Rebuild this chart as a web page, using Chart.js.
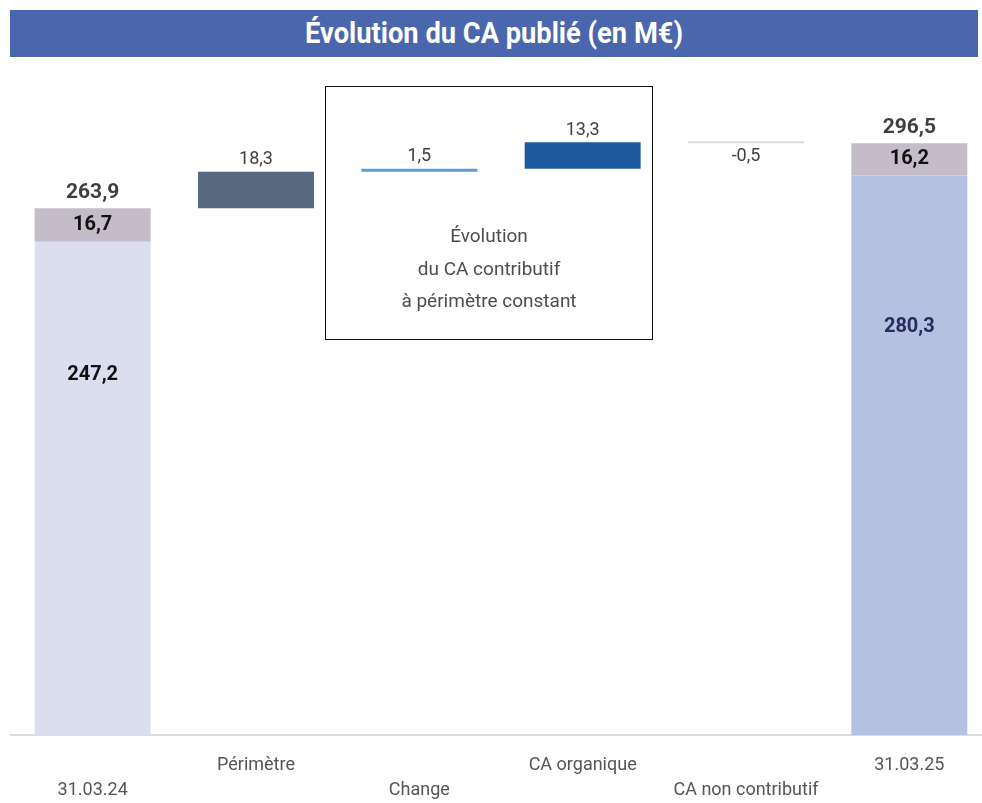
<!DOCTYPE html>
<html lang="fr">

<head>
    <meta charset="UTF-8">
    <title>Évolution du CA publié</title>
    <script src="https://cdn.jsdelivr.net/npm/chart.js"></script>
    <style>
        body { margin: 0; background: #fff; overflow: hidden; width: 982px; height: 803px; position: relative; }
        .titre {
            position: absolute; left: 10px; top: 10px; width: 968px; height: 47px;
            background: #4a66ad; color: #fff; text-align: center; line-height: 47px;
            font-family: Roboto, sans-serif; font-weight: bold; font-size: 29px;
        }
        .titre span { display: inline-block; transform: scaleX(0.94); }
        .cadre {
            position: absolute; left: 325px; top: 86px; width: 328px; height: 254px;
            border: 1.5px solid #111; box-sizing: border-box;
        }
        .cadre p {
            position: absolute; left: 0; right: 0; top: 133px; margin: 0; text-align: center;
            font-family: Roboto, sans-serif; font-size: 19px; line-height: 32.5px; color: #4d4d4d;
        }
        .zone { position: absolute; left: 0; top: 0; width: 1000px; height: 803px; }
    </style>
</head>

<body>
    <div class="zone"><canvas id="graphique" width="1000" height="803"></canvas></div>
    <div class="titre"><span>Évolution du CA publié (en M€)</span></div>
    <div class="cadre"><p>Évolution<br>du CA contributif<br>à périmètre constant</p></div>

    <script>
        // Données du graphique
        var categories = ['31.03.24', 'Périmètre', 'Change', 'CA organique', 'CA non contributif', '31.03.25'];
        var caContributif = [247.2, null, null, null, null, 280.3];   // base des colonnes de total
        var caNonContributif = [16.7, null, null, null, null, 16.2];  // partie grise des totaux
        var totaux = [263.9, null, null, null, null, 296.5];
        var variations = [null, 18.3, 1.5, 13.3, -0.5, null];

        var couleursBase = ['#dadeef', null, null, null, null, '#b5c1e0'];
        var couleursVariation = [null, '#58687f', '#5b9bd5', '#1f5b9c', '#dcdcdc', null];

        // Construction des barres flottantes (waterfall)
        var barresBase = caContributif.map(v => v === null ? null : [0, v]);
        var barresGrises = caContributif.map((v, i) => v === null ? null : [v, v + caNonContributif[i]]);
        var cumul = totaux[0];
        var barresVariation = variations.map(v => {
            if (v === null) return null;
            var debut = cumul;
            cumul = Math.round((cumul + v) * 10) / 10;
            return [debut, cumul];
        });

        function formatFr(v) {
            return v.toFixed(1).replace('.', ',');
        }

        // Plugin pour les étiquettes (valeurs + catégories en quinconce)
        var etiquettes = {
            id: 'etiquettes',
            afterDatasetsDraw(chart) {
                var ctx = chart.ctx;
                var x = chart.scales.x, y = chart.scales.y;
                ctx.save();
                ctx.textAlign = 'center';
                ctx.textBaseline = 'middle';

                categories.forEach((c, i) => {
                    var px = x.getPixelForValue(i);
                    // noms des catégories
                    ctx.font = '18px Roboto, sans-serif';
                    ctx.fillStyle = '#555555';
                    ctx.fillText(c, px, i % 2 === 0 ? 790 : 765);

                    if (totaux[i] !== null) {
                        ctx.font = 'bold 21px Roboto, sans-serif';
                        ctx.fillStyle = '#3f3f3f';
                        ctx.fillText(formatFr(totaux[i]), px, y.getPixelForValue(totaux[i]) - 16);

                        ctx.font = 'bold 20px Roboto, sans-serif';
                        ctx.fillStyle = '#111111';
                        ctx.fillText(formatFr(caNonContributif[i]), px,
                            y.getPixelForValue(caContributif[i] + caNonContributif[i] / 2));

                        ctx.fillStyle = i === 0 ? '#111111' : '#272b5e';
                        ctx.fillText(formatFr(caContributif[i]), px, y.getPixelForValue(caContributif[i] * 0.73));
                    }

                    if (variations[i] !== null) {
                        var b = barresVariation[i];
                        ctx.font = '18px Roboto, sans-serif';
                        ctx.fillStyle = '#404040';
                        if (variations[i] >= 0) {
                            ctx.fillText(formatFr(variations[i]), px, y.getPixelForValue(b[1]) - 12);
                        } else {
                            ctx.fillText(formatFr(variations[i]), px, y.getPixelForValue(b[0]) + 14);
                        }
                    }
                });
                ctx.restore();
            }
        };

        new Chart(document.getElementById('graphique'), {
            type: 'bar',
            data: {
                labels: categories,
                datasets: [
                    { data: barresBase, backgroundColor: couleursBase },
                    { data: barresGrises, backgroundColor: '#c4bcc9' },
                    { data: barresVariation, backgroundColor: couleursVariation, minBarLength: 2 }
                ]
            },
            options: {
                responsive: false,
                animation: false,
                devicePixelRatio: 1,
                categoryPercentage: 1,
                barPercentage: 0.71,
                layout: { padding: { left: 11, right: 9, top: 0, bottom: 60 } },
                plugins: {
                    legend: { display: false },
                    tooltip: { enabled: false }
                },
                scales: {
                    x: {
                        stacked: true,
                        grid: { display: false },
                        ticks: { display: false },
                        border: { display: true, color: '#dcdcdc', width: 2 }
                    },
                    y: {
                        display: false,
                        min: 0,
                        max: 368.3
                    }
                }
            },
            plugins: [etiquettes]
        });
    </script>
</body>

</html>
